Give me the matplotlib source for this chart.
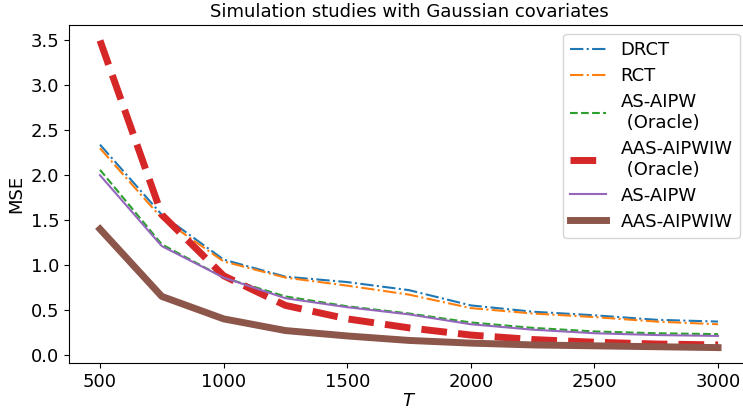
import numpy as np
import matplotlib.pyplot as plt

# sample sizes
T = [500, 750, 1000, 1250, 1500, 1750, 2000, 2250, 2500, 2750, 3000]

# MSE for each estimator
drct = [2.34, 1.56, 1.06, 0.87, 0.81, 0.72, 0.55, 0.48, 0.44, 0.39, 0.37]
rct = [2.30, 1.52, 1.04, 0.86, 0.77, 0.67, 0.52, 0.46, 0.42, 0.37, 0.34]
as_aipw_oracle = [2.06, 1.23, 0.86, 0.65, 0.54, 0.46, 0.36, 0.30, 0.26, 0.24, 0.23]
aas_aipwiw_oracle = [3.50, 1.56, 0.88, 0.55, 0.40, 0.30, 0.22, 0.17, 0.14, 0.12, 0.11]
as_aipw = [2.00, 1.21, 0.86, 0.63, 0.53, 0.45, 0.34, 0.28, 0.24, 0.22, 0.21]
aas_aipwiw = [1.40, 0.65, 0.40, 0.27, 0.21, 0.16, 0.13, 0.11, 0.10, 0.09, 0.08]

fig = plt.figure(figsize=(7.43, 4.12), dpi=100)
# the original is cropped on the right, so the axes run past the edge
ax = fig.add_axes([0.093, 0.119, 0.915, 0.82])

ax.plot(T, drct, '-.', color='tab:blue', lw=1.5, label='DRCT')
ax.plot(T, rct, '-.', color='tab:orange', lw=1.5, label='RCT')
ax.plot(T, as_aipw_oracle, '--', color='tab:green', lw=1.5, label='AS-AIPW\n (Oracle)')
ax.plot(T, aas_aipwiw_oracle, '--', color='tab:red', lw=5, label='AAS-AIPWIW\n (Oracle)')
ax.plot(T, as_aipw, '-', color='tab:purple', lw=1.5, label='AS-AIPW')
ax.plot(T, aas_aipwiw, '-', color='tab:brown', lw=5, label='AAS-AIPWIW')

ax.set_title('Simulation studies with Gaussian covariates', fontsize=13)
ax.set_xlabel('$T$', fontsize=13, labelpad=1)
ax.set_ylabel('MSE', fontsize=13)
ax.tick_params(labelsize=13)
ax.legend(fontsize=13, loc='upper right', labelspacing=0.44)

plt.savefig('out.png')
